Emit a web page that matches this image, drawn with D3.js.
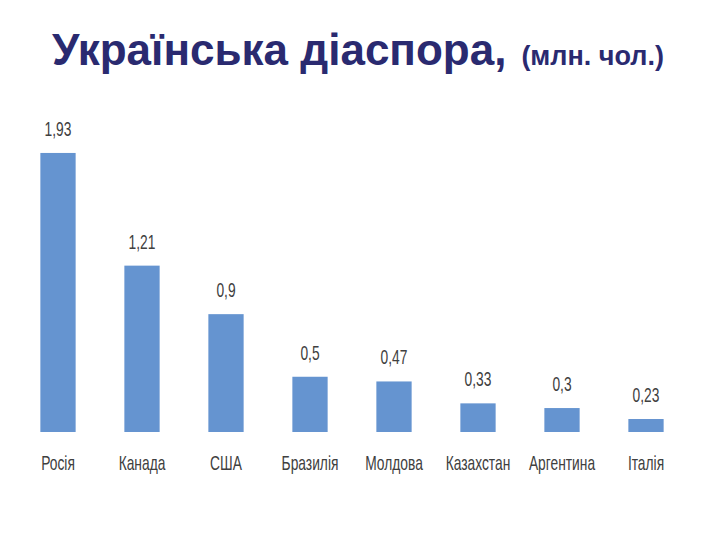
<!DOCTYPE html>
<html><head><meta charset="utf-8">
<script src="https://cdn.jsdelivr.net/npm/d3@7"></script>
<style>body{margin:0;background:#fff;}</style>
</head><body>
<script>
const categories = ["Росія","Канада","США","Бразилія","Молдова","Казахстан","Аргентина","Італія"];
const values = [1.93,1.21,0.9,0.5,0.47,0.33,0.3,0.23];
const valueLabels = ["1,93","1,21","0,9","0,5","0,47","0,33","0,3","0,23"];
const titleMain = "Українська діаспора,";
const titleSub = "(млн. чол.)";

const W = 720, H = 540;
const svg = d3.select("body").append("svg").attr("width", W).attr("height", H);

const x = d3.scaleBand().domain(categories).range([16, 688]).paddingInner(0.58).paddingOuter(0.29);
const y = d3.scaleLinear().domain([0.147, 2.0]).range([432, 142]);

const t = svg.append("text").attr("x", 52).attr("y", 65)
  .attr("font-family", "Liberation Sans, Arial, sans-serif").attr("font-weight", "bold")
  .attr("fill", "#2A2A70");
t.append("tspan").attr("font-size", 44).text(titleMain);
t.append("tspan").attr("font-size", 27).attr("dx", 15).text(titleSub);

const g = svg.append("g");
g.selectAll("rect").data(values).join("rect")
  .attr("x", (d,i) => x(categories[i]))
  .attr("width", x.bandwidth())
  .attr("y", d => y(d))
  .attr("height", d => y.range()[0] - y(d))
  .attr("fill", "#6594D0");

const font = "Liberation Sans, Arial, sans-serif";
const sx = 0.69;
g.selectAll("text.v").data(values).join("text").attr("class","v")
  .attr("transform", (d,i) => `translate(${x(categories[i]) + x.bandwidth()/2},${y(d) - 17}) scale(${sx},1)`)
  .attr("text-anchor", "middle").attr("font-family", font).attr("font-size", 20)
  .attr("fill", "#404040")
  .text((d,i) => valueLabels[i]);

g.selectAll("text.c").data(categories).join("text").attr("class","c")
  .attr("transform", d => `translate(${x(d) + x.bandwidth()/2},470) scale(${sx},1)`)
  .attr("text-anchor", "middle").attr("font-family", font).attr("font-size", 20)
  .attr("fill", "#404040")
  .text(d => d);
</script>
</body></html>
